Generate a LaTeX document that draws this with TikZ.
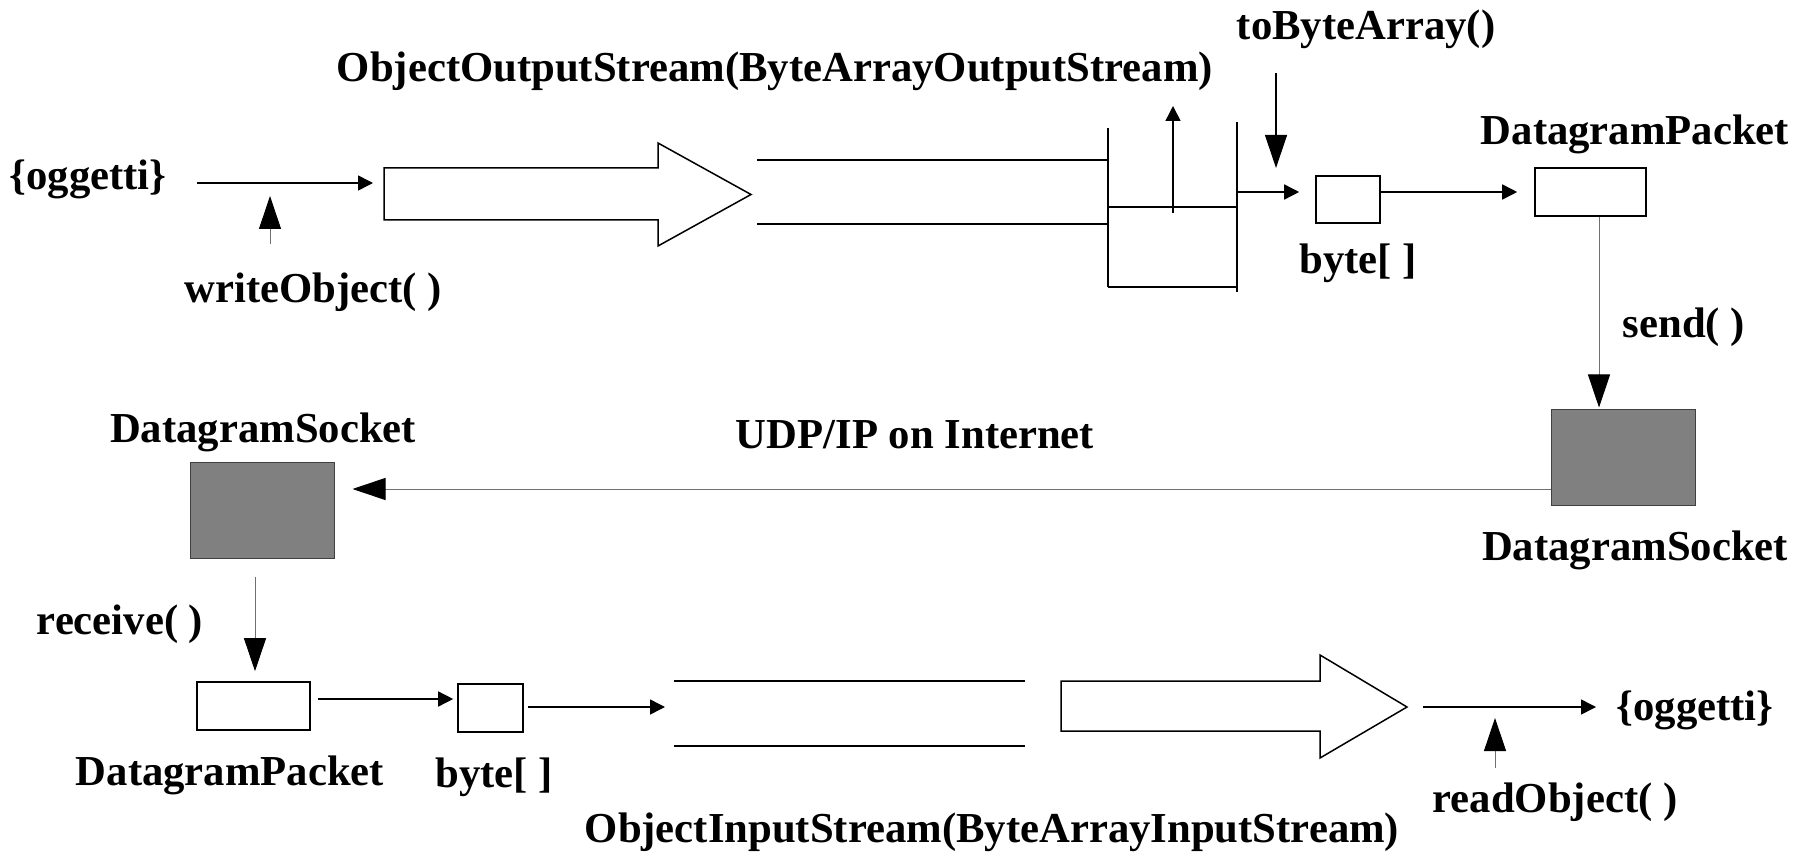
\documentclass[tikz,border=0pt]{standalone}
\usepackage{fontspec}
\setmainfont{Liberation Serif}
\usetikzlibrary{arrows.meta}
\definecolor{sockgray}{HTML}{808080}
\definecolor{wiregray}{HTML}{707070}
\begin{document}
\begin{tikzpicture}[x=0.5pt,y=-0.5pt,
  lbl/.style={font=\fontsize{21.35}{25}\selectfont\bfseries, anchor=base, inner sep=0pt},
  ln/.style={line width=0.75pt, draw=black},
  thinln/.style={line width=0.5pt, draw=wiregray},
  sar/.style={ln, -{Triangle[length=7.5pt,width=7.5pt,color=black]}},
  bar/.style={thinln, -{Triangle[length=16.5pt,width=11pt,color=black]}},
  box/.style={draw=black, line width=0.8pt, inner sep=0pt, fill=white},
  sock/.style={draw=black!75, fill=sockgray, line width=0.5pt, inner sep=0pt},
  hollow/.style={line width=0.75pt, draw=black, fill=white, line join=miter}]
\useasboundingbox (0,0) rectangle (1808,855);

% ---------- boxes ----------
\node[box, minimum width=32pt, minimum height=23.5pt] (byteT) at (1348,199.5) {};
\node[box, minimum width=55.5pt, minimum height=24pt] (dpT) at (1590.5,192) {};
\node[sock, minimum width=72pt, minimum height=48pt] (sockR) at (1623,457) {};
\node[sock, minimum width=72pt, minimum height=48pt] (sockL) at (262,510) {};
\node[box, minimum width=56.5pt, minimum height=24pt] (dpB) at (253.5,706) {};
\node[box, minimum width=32.5pt, minimum height=24pt] (byteB) at (490.5,708) {};

% ---------- labels ----------
\node[lbl] (oos) at (775,82) {ObjectOutputStream(ByteArrayOutputStream)};
\node[lbl] (tba) at (1366,40) {toByteArray()};
\node[lbl] (ogg1) at (88,190) {\{oggetti\}};
\node[lbl] (wo) at (313,303) {writeObject( )};
\node[lbl] (dpTl) at (1635,145) {DatagramPacket};
\node[lbl] (byteTl) at (1358,274) {byte[ ]};
\node[lbl] (sendl) at (1684,338) {send( )};
\node[lbl] (dsL) at (263,442) {DatagramSocket};
\node[lbl] (udp) at (915,448) {UDP/IP on Internet};
\node[lbl] (dsR) at (1635,560) {DatagramSocket};
\node[lbl] (recv) at (120,634) {receive( )};
\node[lbl] (dpBl) at (230,785) {DatagramPacket};
\node[lbl] (byteBl) at (494,787) {byte[ ]};
\node[lbl] (ois) at (992,842) {ObjectInputStream(ByteArrayInputStream)};
\node[lbl] (ogg2) at (1695,720) {\{oggetti\}};
\node[lbl] (ro) at (1555,812) {readObject( )};

% ---------- top row ----------
\coordinate (a1s) at (197,183);
\coordinate (a1e) at (373,183);
\draw[sar] (a1s) -- (a1e);

\coordinate (wos) at (270,244);
\coordinate (woe) at (270,196);
\draw[bar] (wos) -- (woe);

\draw[hollow] (384,168) -- (658,168) -- (658,143) -- (751,194.5) -- (658,246) -- (658,220) -- (384,220) -- cycle;

\draw[ln] (757,160) -- (1108,160);
\draw[ln] (757,224) -- (1108,224);

% buffer
\draw[ln] (1108,128) -- (1108,287);
\draw[ln] (1237,122) -- (1237,292);
\draw[ln] (1108,207) -- (1237,207);
\draw[ln] (1108,287) -- (1237,287);

\coordinate (ups) at (1173,213);
\coordinate (upe) at (1173,106);
\draw[sar] (ups) -- (upe);

\coordinate (tbs) at (1276,73);
\coordinate (tbe) at (1276,168);
\draw[bar, line width=0.6pt, draw=black] (tbs) -- (tbe);

\coordinate (bufout) at (1237,192);
\draw[sar, shorten >=8pt] (bufout) -- (bufout -| byteT.west);
\draw[sar, shorten >=8.5pt] (byteT.east |- dpT.west) -- (dpT.west);

\coordinate (sendx) at (1599,300);
\draw[bar, shorten >=0.5pt] (dpT.south -| sendx) -- (sockR.north -| sendx);

% ---------- network ----------
\coordinate (udpy) at (900,489);
\draw[bar, shorten >=9pt] (sockR.west |- udpy) -- (sockL.east |- udpy);

\coordinate (recx) at (255,600);
\draw[bar, shorten <=9pt, shorten >=5pt] (sockL.south -| recx) -- (dpB.north -| recx);

% ---------- bottom row ----------
\coordinate (r1) at (300,699);
\draw[sar, shorten <=3.5pt, shorten >=2pt] (dpB.east |- r1) -- (byteB.west |- r1);

\coordinate (r2s) at (523,707);
\coordinate (r2e) at (665,707);
\draw[sar, shorten <=2.5pt] (r2s) -- (r2e);

\draw[ln] (674,681) -- (1025,681);
\draw[ln] (674,746) -- (1025,746);

\draw[hollow] (1061,681) -- (1320,681) -- (1320,655) -- (1407,707) -- (1320,758) -- (1320,731) -- (1061,731) -- cycle;

\coordinate (r3s) at (1423,707);
\coordinate (r3e) at (1596,707);
\draw[sar] (r3s) -- (r3e);

\coordinate (ros) at (1495,768);
\coordinate (roe) at (1495,718);
\draw[bar] (ros) -- (roe);
\end{tikzpicture}
\end{document}
